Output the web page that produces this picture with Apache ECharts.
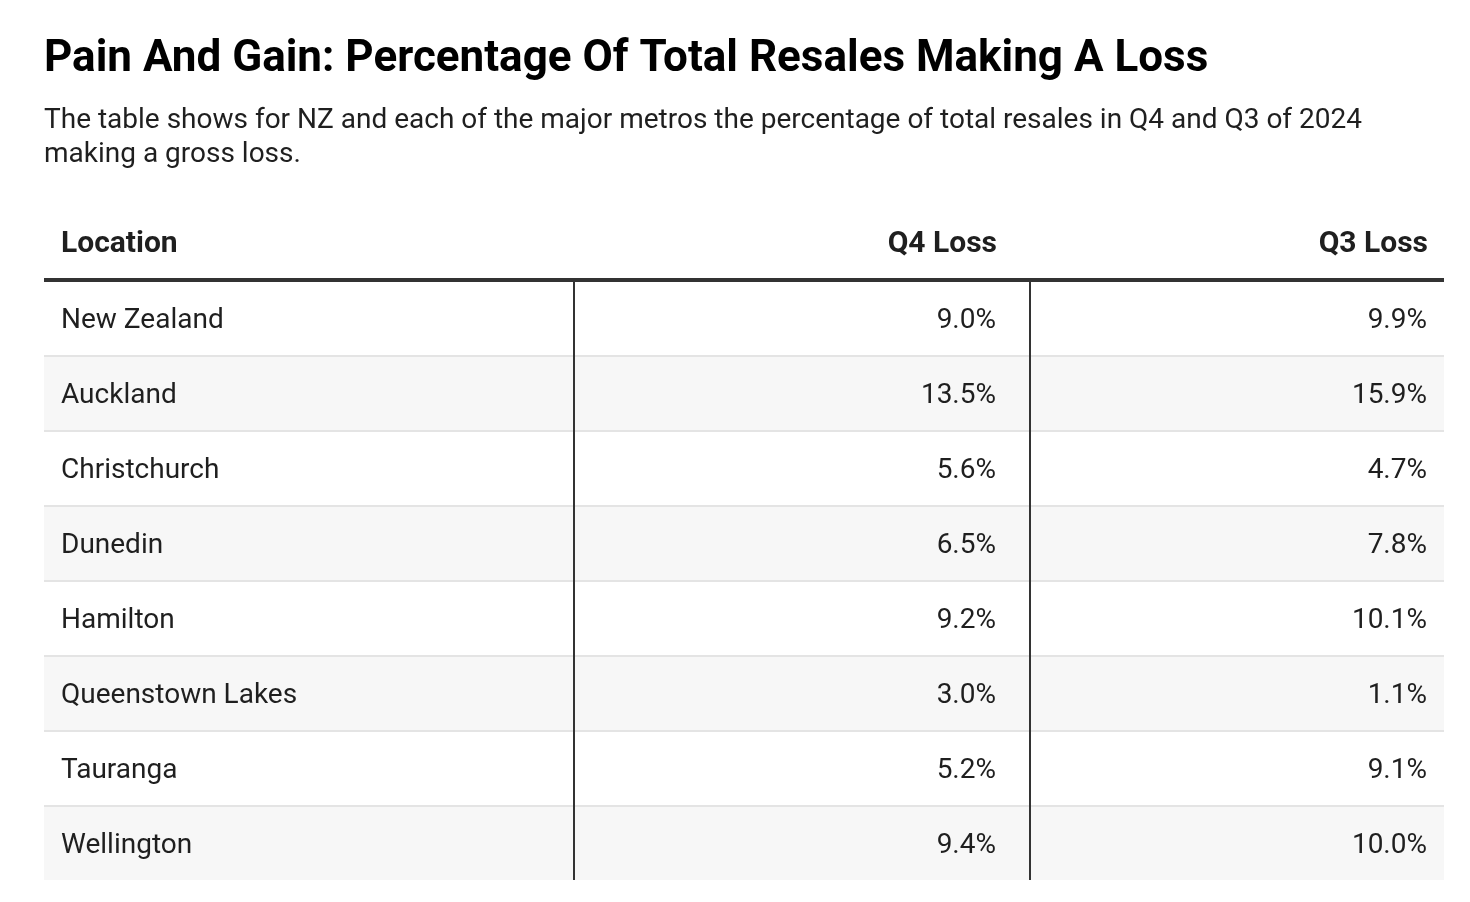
<!DOCTYPE html>
<html>
<head>
<meta charset="utf-8">
<script src="https://cdn.jsdelivr.net/npm/echarts@6/dist/echarts.min.js"></script>
<style>
html,body{margin:0;padding:0;background:#fff;}
#chart{width:1470px;height:902px;}
</style>
</head>
<body>
<div id="chart"></div>
<script>
const titleText = 'Pain And Gain: Percentage Of Total Resales Making A Loss';
const subtitleText = 'The table shows for NZ and each of the major metros the percentage of total resales in Q4 and Q3 of 2024\nmaking a gross loss.';
const columnHeaders = ['Location', 'Q4 Loss', 'Q3 Loss'];
const locations = ['New Zealand', 'Auckland', 'Christchurch', 'Dunedin', 'Hamilton', 'Queenstown Lakes', 'Tauranga', 'Wellington'];
const q4Loss = [9.0, 13.5, 5.6, 6.5, 9.2, 3.0, 5.2, 9.4];
const q3Loss = [9.9, 15.9, 4.7, 7.8, 10.1, 1.1, 9.1, 10.0];

const FONT = 'Roboto, "Liberation Sans", sans-serif';
const TEXT = '#1f1f1f';
// column layout (in x-axis units = pixels across table width)
const TABLE_W = 1400;
const COL1_END = 530, COL2_END = 986;
const PAD = 17, PAD_Q4 = 34;

const chart = echarts.init(document.getElementById('chart'), null, {renderer: 'canvas'});

const rows = locations.map((l, i) => [0, i, q4Loss[i], q3Loss[i]]);

function renderItem(params, api) {
  const i = api.value(1);
  const center = api.coord([0, i]);
  const h = api.size([0, 1])[1];
  const top = center[1] - h / 2;
  const cy = center[1] + 3;
  const x0 = api.coord([0, i])[0];
  const xEnd = api.coord([TABLE_W, i])[0];
  const xc1 = Math.round(api.coord([COL1_END, i])[0]);
  const xc2 = Math.round(api.coord([COL2_END, i])[0]);
  const children = [];
  children.push({
    type: 'rect',
    shape: {x: x0, y: top, width: xEnd - x0, height: h},
    style: {fill: i % 2 === 1 ? '#f7f7f7' : '#ffffff'}
  });
  if (i > 0) {
    children.push({
      type: 'line',
      shape: {x1: x0, y1: top + 1, x2: xEnd, y2: top + 1},
      style: {stroke: '#e4e4e4', lineWidth: 2}
    });
  }
  [xc1, xc2].forEach(x => children.push({
    type: 'line',
    shape: {x1: x, y1: top, x2: x, y2: top + h},
    style: {stroke: '#333333', lineWidth: 2}
  }));
  children.push({
    type: 'text',
    style: {x: x0 + PAD, y: cy, text: locations[i], fill: TEXT,
      font: '400 28px ' + FONT, textAlign: 'left', textVerticalAlign: 'middle'}
  });
  children.push({
    type: 'text',
    style: {x: xc2 - PAD_Q4, y: cy, text: api.value(2).toFixed(1) + '%', fill: TEXT,
      font: '400 28px ' + FONT, textAlign: 'right', textVerticalAlign: 'middle'}
  });
  children.push({
    type: 'text',
    style: {x: xEnd - PAD, y: cy, text: api.value(3).toFixed(1) + '%', fill: TEXT,
      font: '400 28px ' + FONT, textAlign: 'right', textVerticalAlign: 'middle'}
  });
  return {type: 'group', children};
}

const option = {
  backgroundColor: '#ffffff',
  animation: false,
  title: {
    text: titleText,
    subtext: subtitleText,
    left: 44 - 5,
    top: 33 - 5,
    itemGap: 17,
    textStyle: {fontFamily: FONT, fontWeight: 'bold', fontSize: 44, color: '#000', lineHeight: 54},
    subtextStyle: {fontFamily: FONT, fontSize: 28, color: TEXT, lineHeight: 34}
  },
  grid: {left: 44, right: 26, top: 280, bottom: 22},
  xAxis: {
    type: 'value', min: 0, max: TABLE_W, position: 'top', z: 20,
    axisLine: {show: true, lineStyle: {color: '#333', width: 4, cap: 'butt'}},
    axisTick: {show: false}, axisLabel: {show: false}, splitLine: {show: false}
  },
  yAxis: {
    type: 'category', data: locations, inverse: true,
    axisLine: {show: false}, axisTick: {show: false}, axisLabel: {show: false}, splitLine: {show: false}
  },
  graphic: [
    {type: 'text', left: 61, top: 229, style: {text: columnHeaders[0], font: 'bold 30px ' + FONT, fill: TEXT}},
    {type: 'text', right: 1470 - 997, top: 229, style: {text: columnHeaders[1], font: 'bold 30px ' + FONT, fill: TEXT}},
    {type: 'text', right: 1470 - 1428, top: 229, style: {text: columnHeaders[2], font: 'bold 30px ' + FONT, fill: TEXT}}
  ],
  series: [{
    type: 'custom',
    renderItem: renderItem,
    data: rows,
    encode: {x: 0, y: 1},
    clip: false,
    silent: true
  }]
};
chart.setOption(option);
</script>
</body>
</html>
